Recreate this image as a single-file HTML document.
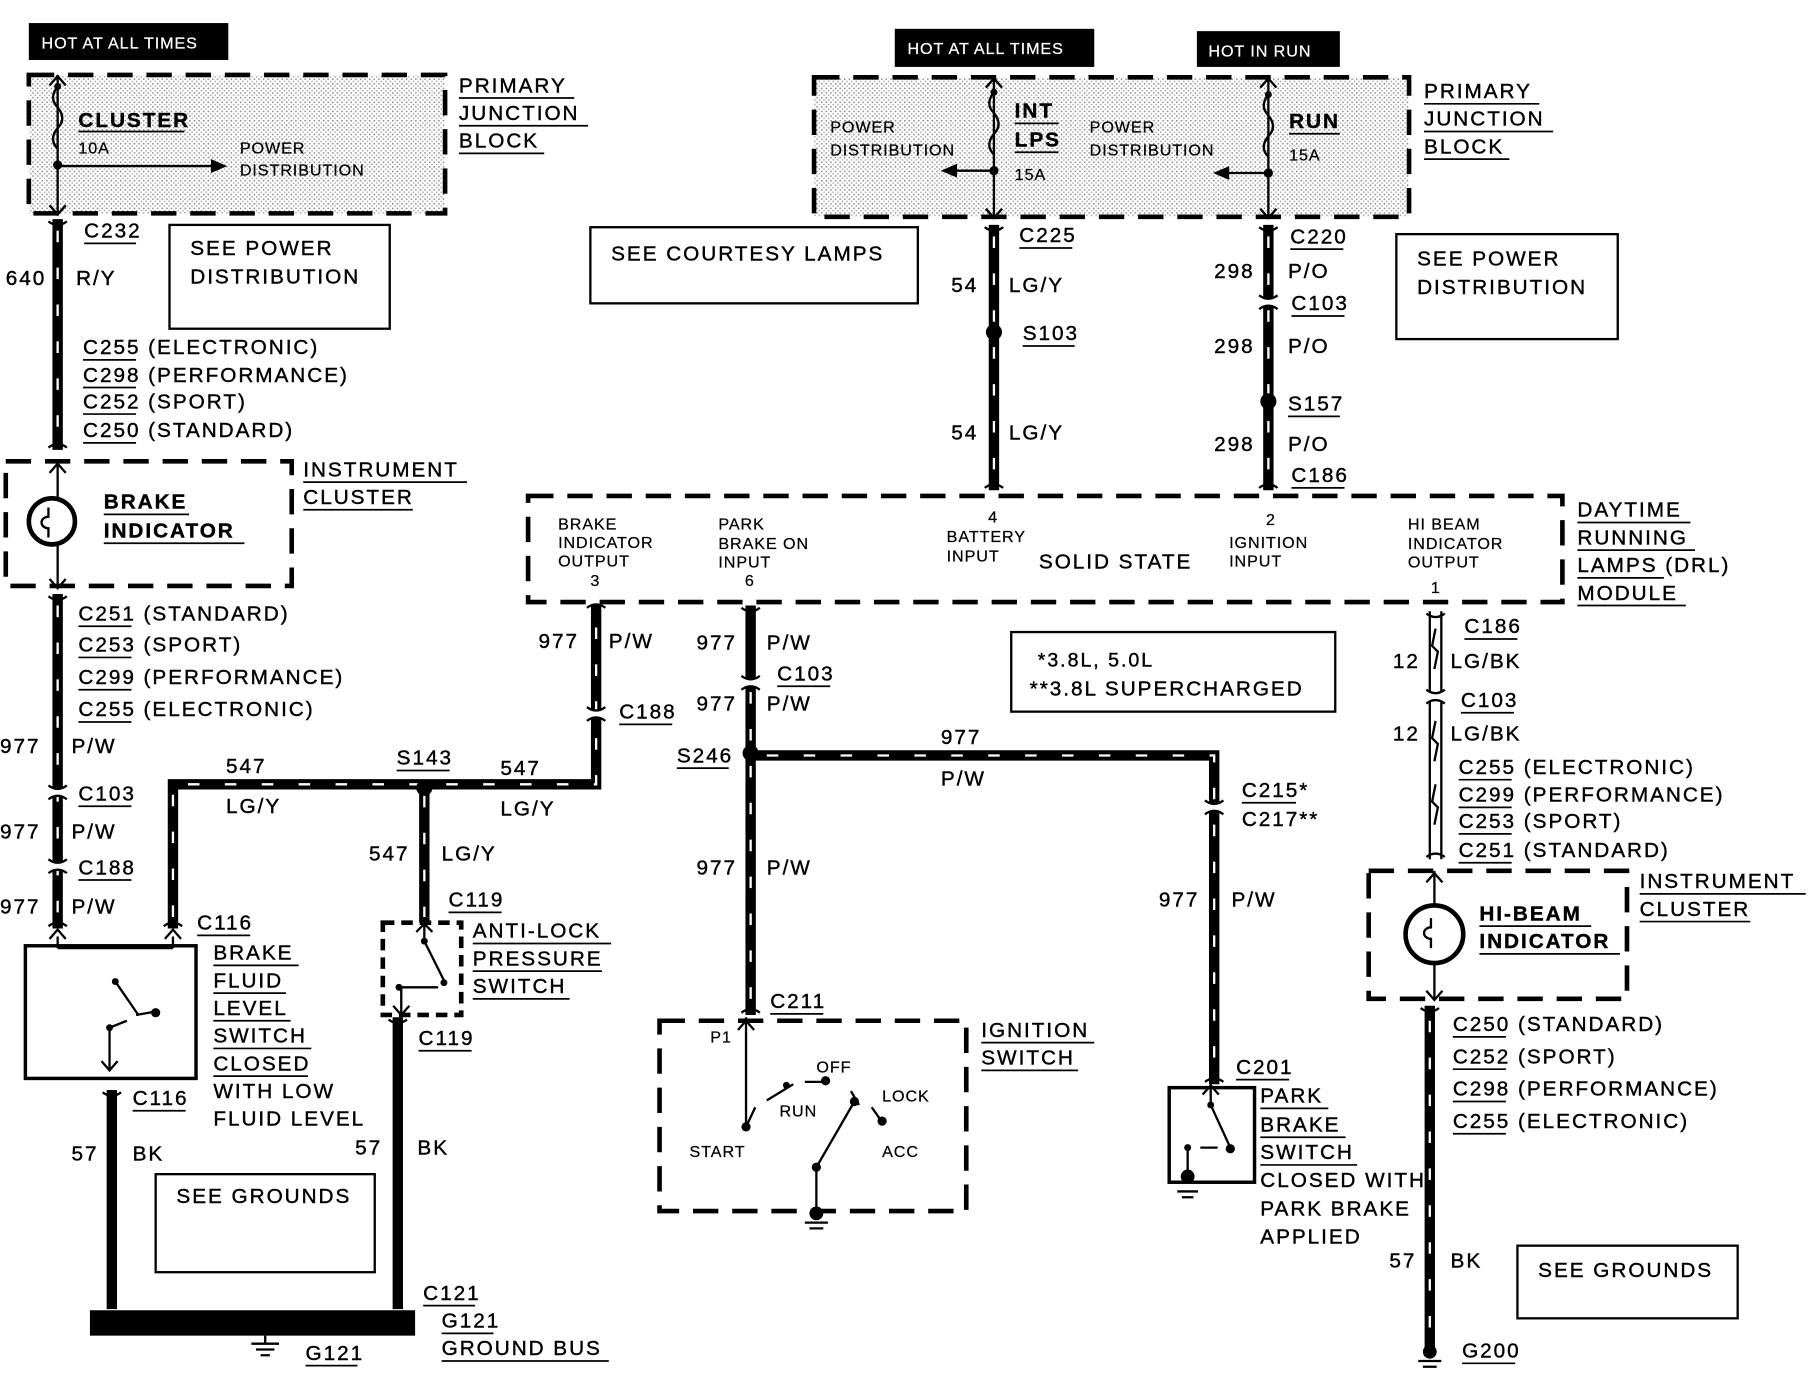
<!DOCTYPE html>
<html><head><meta charset="utf-8"><style>
html,body{margin:0;padding:0;background:#fff}
svg{display:block}
text{font-family:"Liberation Sans",Arial,sans-serif;font-size:18px;fill:#000;letter-spacing:1.7px;stroke:#000;stroke-width:0.35}
.s{font-size:14px;letter-spacing:0.8px;stroke-width:0.2}
.b{font-weight:bold}
.w{fill:#fff}
.wire{stroke:#000;stroke-width:9;fill:none}
.dash{stroke:#fff;stroke-width:2;stroke-dasharray:10 22;fill:none}
.db{stroke:#000;stroke-width:4;stroke-dasharray:22 12;fill:none}
.thin{stroke:#000;stroke-width:2;fill:none}
.u{stroke:#000;stroke-width:1.5}
</style></head><body>
<svg width="1808" height="1376" viewBox="0 0 1568 1193" preserveAspectRatio="none" xmlns="http://www.w3.org/2000/svg">
<defs>
<pattern id="st" width="4" height="4" patternUnits="userSpaceOnUse"><rect width="4" height="4" fill="#fff"/><rect width="1.3" height="1.3" fill="#888"/><rect x="2" y="2" width="1.3" height="1.3" fill="#aaa"/></pattern>
</defs>

<rect x="25" y="20" width="173" height="32" fill="#000"/>
<text x="36" y="42" class="s" style="fill:#fff;stroke:#fff">HOT AT ALL TIMES</text>
<rect x="25" y="65" width="361" height="120" fill="url(#st)"/>
<rect x="25" y="65" width="361" height="120" class="db"/>
<path d="M50 65V185M43 74L50 66L57 74M43 178L50 186L57 178" class="thin"/>
<path d="M50 75q-8 10 0 18q8 10 0 18q-8 10 0 18" class="thin" fill="#fff"/>
<circle cx="50" cy="75" r="3"/><circle cx="50" cy="143" r="4"/>
<path d="M50 144H185" class="thin"/><path d="M183 138L197 144L183 150Z"/>
<text x="68" y="110" class="b">CLUSTER</text><path d="M68 114H160" class="u"/>
<text x="68" y="133" class="s">10A</text>
<text x="208" y="133" class="s">POWER</text><text x="208" y="152" class="s">DISTRIBUTION</text>
<text x="398" y="80">PRIMARY</text><path d="M398 85H498" class="u"/>
<text x="398" y="104">JUNCTION</text><path d="M398 109H510" class="u"/>
<text x="398" y="128">BLOCK</text><path d="M398 133H472" class="u"/>

<path d="M50 190V390" class="wire"/><path d="M50 200V385" class="dash"/>
<path d="M42 192q8 6 16 0M42 388q8 -6 16 0" class="thin"/>
<text x="73" y="206">C232</text><path d="M73 211H118" class="u"/>
<text x="5" y="247">640</text><text x="66" y="247">R/Y</text>
<rect x="147" y="195" width="191" height="90" class="thin"/>
<text x="165" y="221">SEE POWER</text><text x="165" y="246">DISTRIBUTION</text>
<text x="72" y="307">C255  (ELECTRONIC)</text><path d="M72 312H118" class="u"/>
<text x="72" y="331">C298  (PERFORMANCE)</text><path d="M72 336H118" class="u"/>
<text x="72" y="354">C252  (SPORT)</text><path d="M72 359H118" class="u"/>
<text x="72" y="379">C250  (STANDARD)</text><path d="M72 384H118" class="u"/>

<rect x="5" y="400" width="248" height="108" class="db"/>
<path d="M50 400V510M43 410L50 402L57 410M43 502L50 510L57 502" class="thin"/>
<circle cx="45" cy="452" r="20" fill="#fff" stroke="#000" stroke-width="4"/>
<path d="M42 440v8a6 5 0 1 0 0 10v8" class="thin"/>
<text x="90" y="441" class="b">BRAKE</text><path d="M90 446H164" class="u"/>
<text x="90" y="466" class="b">INDICATOR</text><path d="M90 471H212" class="u"/>
<text x="263" y="413">INSTRUMENT</text><path d="M263 418H405" class="u"/>
<text x="263" y="437">CLUSTER</text><path d="M263 442H358" class="u"/>

<path d="M50 515V805" class="wire"/><path d="M50 525V800" class="dash"/>
<rect x="40" y="683" width="20" height="8" fill="#fff"/><rect x="40" y="747" width="20" height="8" fill="#fff"/>
<path d="M42 517q8 6 16 0M42 803q8 -6 16 0M42 681q8 6 16 0M42 693q8 -6 16 0M42 745q8 6 16 0M42 757q8 -6 16 0" class="thin"/>
<text x="68" y="538">C251  (STANDARD)</text><path d="M68 543H114" class="u"/>
<text x="68" y="565">C253  (SPORT)</text><path d="M68 570H114" class="u"/>
<text x="68" y="593">C299  (PERFORMANCE)</text><path d="M68 598H114" class="u"/>
<text x="68" y="621">C255  (ELECTRONIC)</text><path d="M68 626H114" class="u"/>
<text x="0" y="653">977</text><text x="62" y="653">P/W</text>
<text x="68" y="694">C103</text><path d="M68 699H114" class="u"/>
<text x="0" y="727">977</text><text x="62" y="727">P/W</text>
<text x="68" y="758">C188</text><path d="M68 763H114" class="u"/>
<text x="0" y="792">977</text><text x="62" y="792">P/W</text>

<path d="M150 805V680H517V525" class="wire"/><path d="M150 795V680H517V530" class="dash"/>
<rect x="508" y="615" width="18" height="8" fill="#fff"/>
<path d="M509 613q8 6 16 0M509 625q8 -6 16 0M142 803q8 -6 16 0M509 527q8 -6 16 0" class="thin"/>
<circle cx="368" cy="683" r="7"/>
<path d="M368 683V800" class="wire"/><path d="M368 690V795" class="dash"/>
<text x="196" y="670">547</text><text x="196" y="705">LG/Y</text>
<text x="344" y="663">S143</text><path d="M344 668H390" class="u"/>
<text x="434" y="672">547</text><text x="434" y="707">LG/Y</text>
<text x="320" y="746">547</text><text x="383" y="746">LG/Y</text>
<text x="389" y="786">C119</text><path d="M389 791H435" class="u"/>
<text x="467" y="562">977</text><text x="528" y="562">P/W</text>
<text x="537" y="623">C188</text><path d="M537 628H583" class="u"/>

<rect x="332" y="800" width="68" height="80" class="db" style="stroke-dasharray:10 6"/>
<path d="M368 800V816M361 808L368 801L375 808M368 816L385 850M346 856H380M348 856V880M341 872L348 880L355 872" class="thin"/>
<circle cx="368" cy="816" r="3"/><circle cx="346" cy="856" r="3"/><circle cx="385" cy="852" r="3"/>
<text x="410" y="813">ANTI-LOCK</text><path d="M410 818H530" class="u"/>
<text x="410" y="837">PRESSURE</text><path d="M410 842H522" class="u"/>
<text x="410" y="861">SWITCH</text><path d="M410 866H494" class="u"/>

<rect x="22" y="820" width="148" height="115" fill="none" stroke="#000" stroke-width="3"/>
<path d="M50 812V822M43 814L50 806L57 814M150 812V822M143 814L150 806L157 814M50 822H150" class="thin"/>
<path d="M100 851L120 880M95 891V928M88 920L95 928L102 920M95 891L110 885M118 880L135 877" class="thin"/>
<circle cx="100" cy="851" r="3"/><circle cx="95" cy="891" r="3"/><circle cx="135" cy="878" r="4"/>
<text x="171" y="806">C116</text><path d="M171 811H217" class="u"/>
<text x="185" y="832">BRAKE</text><path d="M185 837H259" class="u"/>
<text x="185" y="856">FLUID</text><path d="M185 861H248" class="u"/>
<text x="185" y="880">LEVEL</text><path d="M185 885H252" class="u"/>
<text x="185" y="904">SWITCH</text><path d="M185 909H270" class="u"/>
<text x="185" y="928">CLOSED</text><path d="M185 933H267" class="u"/>
<text x="185" y="952">WITH LOW</text>
<text x="185" y="976">FLUID LEVEL</text>
<text x="115" y="958">C116</text><path d="M115 963H161" class="u"/>

<path d="M97 945V1135" class="wire"/><path d="M89 947q8 6 16 0" class="thin"/>
<path d="M345 882V1135" class="wire"/><path d="M337 884q8 6 16 0" class="thin"/>
<text x="62" y="1006">57</text><text x="115" y="1006">BK</text>
<text x="308" y="1001">57</text><text x="362" y="1001">BK</text>
<text x="363" y="906">C119</text><path d="M363 911H409" class="u"/>
<rect x="135" y="1018" width="190" height="85" class="thin"/>
<text x="153" y="1043">SEE GROUNDS</text>
<rect x="78" y="1136" width="282" height="22" fill="#000"/>
<path d="M230 1158V1165M218 1165H242M222 1170H238M226 1175H234" class="thin"/>
<text x="367" y="1127">C121</text><path d="M367 1132H412" class="u"/>
<text x="383" y="1151">G121</text><path d="M383 1156H428" class="u"/>
<text x="383" y="1175">GROUND BUS</text><path d="M383 1180H528" class="u"/>
<text x="265" y="1179">G121</text><path d="M265 1184H310" class="u"/>

<rect x="776" y="25" width="173" height="33" fill="#000"/>
<text x="787" y="47" class="s" style="fill:#fff;stroke:#fff">HOT AT ALL TIMES</text>
<rect x="1038" y="27" width="124" height="31" fill="#000"/>
<text x="1048" y="49" class="s" style="fill:#fff;stroke:#fff">HOT IN RUN</text>
<rect x="706" y="67" width="516" height="121" fill="url(#st)"/>
<rect x="706" y="67" width="516" height="121" class="db"/>
<path d="M862 67V188M855 76L862 68L869 76M855 181L862 189L869 181" class="thin"/>
<path d="M862 80q-8 10 0 18q8 10 0 18q-8 10 0 18" class="thin" fill="#fff"/>
<circle cx="862" cy="80" r="3"/><circle cx="862" cy="148" r="4"/>
<path d="M862 148H828" class="thin"/><path d="M830 142L816 148L830 154Z"/>
<path d="M1100 67V188M1093 76L1100 68L1107 76M1093 181L1100 189L1107 181" class="thin"/>
<path d="M1100 82q-8 10 0 18q8 10 0 18q-8 10 0 18" class="thin" fill="#fff"/>
<circle cx="1100" cy="82" r="3"/><circle cx="1100" cy="150" r="4"/>
<path d="M1100 150H1064" class="thin"/><path d="M1066 144L1052 150L1066 156Z"/>
<text x="720" y="115" class="s">POWER</text><text x="720" y="135" class="s">DISTRIBUTION</text>
<text x="945" y="115" class="s">POWER</text><text x="945" y="135" class="s">DISTRIBUTION</text>
<text x="880" y="102" class="b">INT</text><path d="M880 107H918" class="u"/>
<text x="880" y="127" class="b">LPS</text><path d="M880 132H918" class="u"/>
<text x="880" y="156" class="s">15A</text>
<text x="1118" y="111" class="b">RUN</text><path d="M1118 116H1162" class="u"/>
<text x="1118" y="139" class="s">15A</text>
<text x="1235" y="85">PRIMARY</text><path d="M1235 90H1335" class="u"/>
<text x="1235" y="109">JUNCTION</text><path d="M1235 114H1347" class="u"/>
<text x="1235" y="133">BLOCK</text><path d="M1235 138H1309" class="u"/>

<rect x="512" y="197" width="284" height="66" class="thin"/>
<text x="530" y="226">SEE COURTESY LAMPS</text>

<path d="M862 195V425" class="wire"/><path d="M862 205V420" class="dash"/>
<path d="M854 197q8 6 16 0M854 423q8 -6 16 0" class="thin"/>
<circle cx="862" cy="288" r="7"/>
<text x="884" y="210">C225</text><path d="M884 215H930" class="u"/>
<text x="825" y="253">54</text><text x="875" y="253">LG/Y</text>
<text x="887" y="295">S103</text><path d="M887 300H932" class="u"/>
<text x="825" y="381">54</text><text x="875" y="381">LG/Y</text>

<path d="M1100 195V425" class="wire"/><path d="M1100 205V420" class="dash"/>
<rect x="1090" y="258" width="20" height="8" fill="#fff"/>
<path d="M1092 197q8 6 16 0M1092 423q8 -6 16 0M1092 256q8 6 16 0M1092 268q8 -6 16 0" class="thin"/>
<circle cx="1100" cy="348" r="7"/>
<text x="1119" y="211">C220</text><path d="M1119 216H1165" class="u"/>
<text x="1053" y="241">298</text><text x="1117" y="241">P/O</text>
<text x="1120" y="269">C103</text><path d="M1120 274H1166" class="u"/>
<text x="1053" y="306">298</text><text x="1117" y="306">P/O</text>
<text x="1117" y="356">S157</text><path d="M1117 361H1162" class="u"/>
<text x="1053" y="391">298</text><text x="1117" y="391">P/O</text>
<text x="1120" y="418">C186</text><path d="M1120 423H1166" class="u"/>
<rect x="1211" y="203" width="192" height="91" class="thin"/>
<text x="1229" y="230">SEE POWER</text><text x="1229" y="255">DISTRIBUTION</text>

<rect x="458" y="430" width="897" height="92" class="db"/>
<text x="484" y="459" class="s">BRAKE</text><text x="484" y="475" class="s">INDICATOR</text><text x="484" y="491" class="s">OUTPUT</text><text x="512" y="508" class="s">3</text>
<text x="623" y="459" class="s">PARK</text><text x="623" y="476" class="s">BRAKE ON</text><text x="623" y="492" class="s">INPUT</text><text x="646" y="508" class="s">6</text>
<text x="857" y="453" class="s">4</text><text x="821" y="470" class="s">BATTERY</text><text x="821" y="487" class="s">INPUT</text>
<text x="901" y="493">SOLID STATE</text>
<text x="1098" y="455" class="s">2</text><text x="1066" y="475" class="s">IGNITION</text><text x="1066" y="491" class="s">INPUT</text>
<text x="1221" y="459" class="s">HI BEAM</text><text x="1221" y="476" class="s">INDICATOR</text><text x="1221" y="492" class="s">OUTPUT</text><text x="1241" y="514" class="s">1</text>
<text x="1368" y="448">DAYTIME</text><path d="M1368 453H1466" class="u"/>
<text x="1368" y="472">RUNNING</text><path d="M1368 477H1470" class="u"/>
<text x="1368" y="496">LAMPS (DRL)</text><path d="M1368 501H1443" class="u"/>
<text x="1368" y="520">MODULE</text><path d="M1368 525H1462" class="u"/>

<path d="M651 525V880" class="wire"/><path d="M651 600V875" class="dash"/>
<rect x="641" y="588" width="20" height="8" fill="#fff"/>
<path d="M643 527q8 6 16 0M643 586q8 6 16 0M643 598q8 -6 16 0M643 878q8 -6 16 0" class="thin"/>
<circle cx="651" cy="653" r="7"/>
<path d="M651 655H1053V940" class="wire"/><path d="M665 655H1053V935" class="dash"/>
<rect x="1043" y="696" width="20" height="8" fill="#fff"/>
<path d="M1045 694q8 6 16 0M1045 706q8 -6 16 0M1045 938q8 -6 16 0" class="thin"/>
<text x="604" y="563">977</text><text x="665" y="563">P/W</text>
<text x="674" y="590">C103</text><path d="M674 595H720" class="u"/>
<text x="604" y="616">977</text><text x="665" y="616">P/W</text>
<text x="587" y="661">S246</text><path d="M587 666H632" class="u"/>
<text x="816" y="645">977</text><text x="816" y="681">P/W</text>
<text x="604" y="758">977</text><text x="665" y="758">P/W</text>
<text x="1077" y="691">C215*</text><path d="M1077 696H1124" class="u"/>
<text x="1077" y="716">C217**</text>
<text x="1005" y="786">977</text><text x="1068" y="786">P/W</text>
<rect x="877" y="548" width="281" height="69" class="thin"/>
<text x="900" y="578" style="font-size:17px">*3.8L, 5.0L</text>
<text x="893" y="603">**3.8L SUPERCHARGED</text>

<rect x="572" y="885" width="266" height="165" class="db"/>
<text x="668" y="874">C211</text><path d="M668 879H714" class="u"/>
<text x="851" y="899">IGNITION</text><path d="M851 904H949" class="u"/>
<text x="851" y="923">SWITCH</text><path d="M851 928H935" class="u"/>
<path d="M647 882V977M640 893L647 885L654 893M647 977L655 960M665 954L688 940M698 938L715 938M738 946L745 958M756 960L763 970M741 955L708 1012V1050" class="thin"/>
<circle cx="647" cy="977" r="4"/><circle cx="682" cy="941" r="3"/><circle cx="716" cy="937" r="4"/><circle cx="741" cy="955" r="4"/><circle cx="765" cy="972" r="4"/><circle cx="708" cy="1012" r="4"/><circle cx="708" cy="1052" r="6"/>
<path d="M698 1060H718M702 1065H714" class="thin"/>
<text x="616" y="904" class="s">P1</text>
<text x="708" y="930" class="s">OFF</text>
<text x="676" y="968" class="s">RUN</text>
<text x="765" y="955" class="s">LOCK</text>
<text x="598" y="1003" class="s">START</text>
<text x="765" y="1003" class="s">ACC</text>

<rect x="1014" y="943" width="74" height="82" fill="none" stroke="#000" stroke-width="3"/>
<path d="M1050 940V958M1043 949L1050 941L1057 949M1050 958L1067 995M1041 995L1056 995M1030 995V1020M1021 1033H1039M1025 1038H1035" class="thin"/>
<circle cx="1050" cy="958" r="3"/><circle cx="1067" cy="996" r="4"/><circle cx="1030" cy="995" r="3"/><circle cx="1030" cy="1020" r="6"/>
<text x="1072" y="931">C201</text><path d="M1072 936H1118" class="u"/>
<text x="1093" y="956">PARK</text><path d="M1093 961H1152" class="u"/>
<text x="1093" y="981">BRAKE</text><path d="M1093 986H1167" class="u"/>
<text x="1093" y="1005">SWITCH</text><path d="M1093 1010H1177" class="u"/>
<text x="1093" y="1029">CLOSED WITH</text>
<text x="1093" y="1054">PARK BRAKE</text>
<text x="1093" y="1078">APPLIED</text>

<path d="M1240 530V745M1250 530V745" class="thin"/>
<path d="M1245 545l-3 15 5 5-3 15M1245 625l-3 15 5 5-3 15M1245 680l-3 15 5 5-3 15" class="thin" stroke-width="1.5"/>
<rect x="1236" y="600" width="18" height="8" fill="#fff"/>
<path d="M1237 532q8 6 16 0M1237 598q8 6 16 0M1237 610q8 -6 16 0M1237 743q8 -6 16 0" class="thin"/>
<text x="1270" y="549">C186</text><path d="M1270 554H1316" class="u"/>
<text x="1208" y="579">12</text><text x="1258" y="579">LG/BK</text>
<text x="1267" y="613">C103</text><path d="M1267 618H1313" class="u"/>
<text x="1208" y="642">12</text><text x="1258" y="642">LG/BK</text>
<text x="1265" y="671">C255  (ELECTRONIC)</text><path d="M1265 676H1311" class="u"/>
<text x="1265" y="695">C299  (PERFORMANCE)</text><path d="M1265 700H1311" class="u"/>
<text x="1265" y="718">C253  (SPORT)</text><path d="M1265 723H1311" class="u"/>
<text x="1265" y="743">C251  (STANDARD)</text><path d="M1265 748H1311" class="u"/>
<rect x="1187" y="755" width="224" height="111" class="db"/>
<path d="M1244 755V866M1237 765L1244 757L1251 765M1237 859L1244 867L1251 859" class="thin"/>
<circle cx="1244" cy="810" r="25" fill="#fff" stroke="#000" stroke-width="4"/>
<path d="M1241 796v8a6 5 0 1 0 0 10v8" class="thin"/>
<text x="1283" y="798" class="b">HI-BEAM</text><path d="M1283 803H1380" class="u"/>
<text x="1283" y="822" class="b">INDICATOR</text><path d="M1283 827H1405" class="u"/>
<text x="1422" y="770">INSTRUMENT</text><path d="M1422 775H1566" class="u"/>
<text x="1422" y="794">CLUSTER</text><path d="M1422 799H1518" class="u"/>
<path d="M1240 872V1170" class="wire"/><path d="M1240 885V1160" class="dash"/>
<path d="M1232 874q8 6 16 0" class="thin"/>
<circle cx="1240" cy="1172" r="6"/><path d="M1230 1180H1250M1234 1185H1246" class="thin"/>
<text x="1260" y="894">C250  (STANDARD)</text><path d="M1260 899H1306" class="u"/>
<text x="1260" y="922">C252  (SPORT)</text><path d="M1260 927H1306" class="u"/>
<text x="1260" y="950">C298  (PERFORMANCE)</text><path d="M1260 955H1306" class="u"/>
<text x="1260" y="978">C255  (ELECTRONIC)</text><path d="M1260 983H1306" class="u"/>
<text x="1205" y="1099">57</text><text x="1258" y="1099">BK</text>
<rect x="1316" y="1080" width="191" height="63" class="thin"/>
<text x="1334" y="1107">SEE GROUNDS</text>
<text x="1268" y="1177">G200</text><path d="M1268 1182H1314" class="u"/>
</svg>
</body></html>
